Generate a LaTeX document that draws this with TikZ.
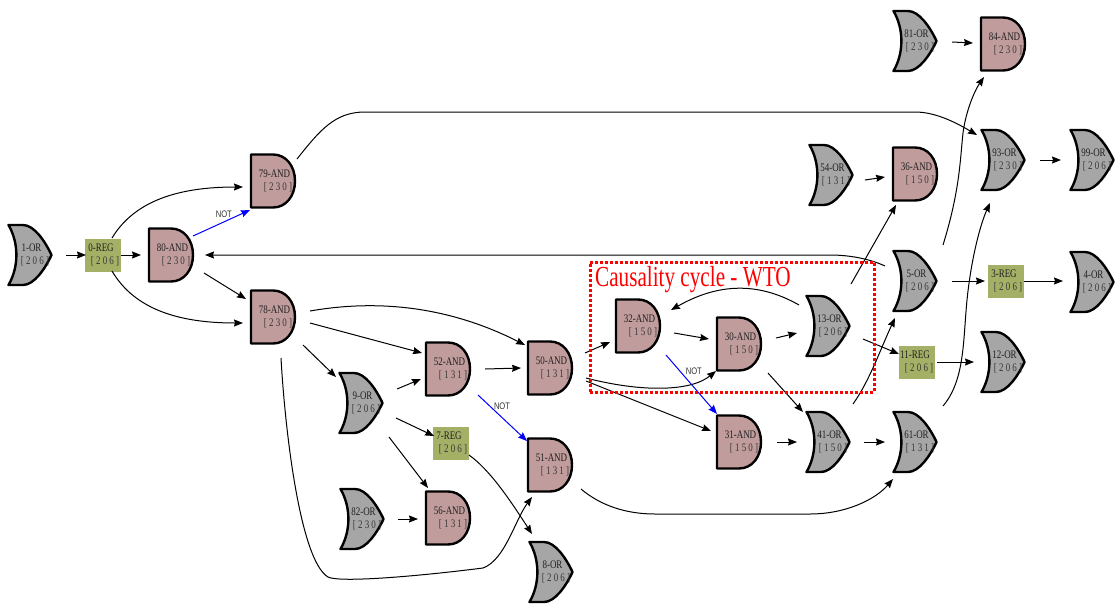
\documentclass[tikz,border=0pt]{standalone}
\usepackage{fontspec}
\usetikzlibrary{arrows.meta,calc}
\newfontfamily\gatefont[FakeStretch=0.78]{Liberation Serif}
\newfontfamily\cyclefont[FakeStretch=0.73]{Liberation Serif}
\newfontfamily\notfont[FakeStretch=0.8]{Liberation Sans}
\definecolor{andfill}{HTML}{C19C9C}
\definecolor{orfill}{HTML}{A6A6A6}
\definecolor{regfill}{HTML}{A3B066}
\definecolor{gatetext}{HTML}{202020}
\definecolor{numtext}{HTML}{383838}
\newdimen\gatecx
\newdimen\gatecy
\newcommand\gatept[2]{\pgfqpoint{\dimexpr\gatecx+#1pt\relax}{\dimexpr\gatecy+#2pt\relax}}
\makeatletter
\newcommand\gatecentre{%
  \southwest \pgf@xa=\pgf@x \pgf@ya=\pgf@y
  \northeast \pgf@xb=\pgf@x \pgf@yb=\pgf@y
  \gatecx=\dimexpr(\pgf@xa+\pgf@xb)/2\relax
  \gatecy=\dimexpr(\pgf@ya+\pgf@yb)/2\relax}
\pgfdeclareshape{andgate}{
  \inheritsavedanchors[from=rectangle]
  \inheritanchorborder[from=rectangle]
  \inheritanchor[from=rectangle]{center}
  \inheritanchor[from=rectangle]{north}
  \inheritanchor[from=rectangle]{south}
  \inheritanchor[from=rectangle]{east}
  \inheritanchor[from=rectangle]{west}
  \backgroundpath{
    \gatecentre
    \pgfpathmoveto{\gatept{-22}{-26.5}}
    \pgfpathlineto{\gatept{-22}{26.5}}
    \pgfpathlineto{\gatept{0}{26.5}}
    \pgfpathcurveto{\gatept{13}{26.5}}{\gatept{22}{15}}{\gatept{22}{0}}
    \pgfpathcurveto{\gatept{22}{-15}}{\gatept{13}{-26.5}}{\gatept{0}{-26.5}}
    \pgfpathclose
  }
}
\pgfdeclareshape{orgate}{
  \inheritsavedanchors[from=rectangle]
  \inheritanchorborder[from=rectangle]
  \inheritanchor[from=rectangle]{center}
  \inheritanchor[from=rectangle]{north}
  \inheritanchor[from=rectangle]{south}
  \inheritanchor[from=rectangle]{east}
  \inheritanchor[from=rectangle]{west}
  \backgroundpath{
    \gatecentre
    \pgfpathmoveto{\gatept{-21.5}{-30}}
    \pgfpathcurveto{\gatept{-11}{-12}}{\gatept{-11}{12}}{\gatept{-21.5}{30}}
    \pgfpathlineto{\gatept{-7}{30}}
    \pgfpathcurveto{\gatept{4}{30}}{\gatept{15}{14}}{\gatept{21.5}{0}}
    \pgfpathcurveto{\gatept{15}{-14}}{\gatept{4}{-30}}{\gatept{-7}{-30}}
    \pgfpathclose
  }
}
\makeatother
\newcommand\andt[2]{\makebox[0pt][c]{\hspace{3pt}#1}\\\makebox[0pt][c]{\hspace{10pt}\color{numtext}#2}}
\newcommand\ort[2]{\makebox[0pt][c]{\hspace{3pt}#1}\\\makebox[0pt][c]{\hspace{10pt}\color{numtext}#2}}
\newcommand\regt[2]{\makebox[0pt][c]{\hspace{-4pt}#1}\\\makebox[0pt][c]{\hspace{4pt}\color{numtext}#2}}
\tikzset{
  gatebase/.style={inner sep=0pt,outer sep=0pt,align=center,text=gatetext,
    font=\gatefont\fontsize{11.5}{13}\selectfont},
  andg/.style={gatebase,shape=andgate,draw=black,fill=andfill,line width=2.4pt,line join=round,
    minimum width=45pt,minimum height=55pt},
  org/.style={gatebase,shape=orgate,draw=black,fill=orfill,line width=2.4pt,line join=round,
    minimum width=44pt,minimum height=62pt},
  regg/.style={gatebase,shape=rectangle,fill=regfill,minimum width=36pt,minimum height=33pt},
  conn/.style={draw=black,line width=1pt,-{Stealth[length=9pt,width=7pt,inset=1pt]}},
  notconn/.style={conn,draw=blue,-{Stealth[length=9pt,width=7pt,inset=1pt,fill=blue]}},
  notlabel/.style={inner sep=0pt,text=black!80,font=\notfont\fontsize{9.5}{10}\selectfont},
  cyclebox/.style={draw=red,line width=3pt,dash pattern=on 3pt off 2pt,inner sep=0pt,
    minimum width=284pt,minimum height=130pt},
  cyclelabel/.style={inner sep=0pt,text=red,anchor=west,font=\cyclefont\fontsize{29}{30}\selectfont}
}
\begin{document}
\begin{tikzpicture}[x=1pt,y=-1pt]
\useasboundingbox (0,0) rectangle (1115,603);
% REG
\node[regg] (n0) at (103,255) {\regt{0-REG}{[ 2 0 6 ]}};
\node[regg] (n7) at (451,443) {\regt{7-REG}{[ 2 0 6 ]}};
\node[regg] (n3) at (1006,281) {\regt{3-REG}{[ 2 0 6 ]}};
\node[regg] (n11) at (917,362) {\regt{11-REG}{[ 2 0 6 ]}};
% AND
\node[andg] (n79) at (273,181) {\andt{79-AND}{[ 2 3 0 ]}};
\node[andg] (n80) at (171,255) {\andt{80-AND}{[ 2 3 0 ]}};
\node[andg] (n78) at (273,317) {\andt{78-AND}{[ 2 3 0 ]}};
\node[andg] (n52) at (448,369) {\andt{52-AND}{[ 1 3 1 ]}};
\node[andg] (n50) at (550,368) {\andt{50-AND}{[ 1 3 1 ]}};
\node[andg] (n51) at (550,465) {\andt{51-AND}{[ 1 3 1 ]}};
\node[andg] (n56) at (448,518) {\andt{56-AND}{[ 1 3 1 ]}};
\node[andg] (n32) at (638,326) {\andt{32-AND}{[ 1 5 0 ]}};
\node[andg] (n30) at (739,344) {\andt{30-AND}{[ 1 5 0 ]}};
\node[andg] (n31) at (739,442) {\andt{31-AND}{[ 1 5 0 ]}};
\node[andg] (n36) at (915,174) {\andt{36-AND}{[ 1 5 0 ]}};
\node[andg] (n84) at (1003,44) {\andt{84-AND}{[ 2 3 0 ]}};
% OR
\node[org] (n1) at (30,255) {\ort{1-OR}{[ 2 0 6 ]}};
\node[org] (n9) at (361,403) {\ort{9-OR}{[ 2 0 6 ]}};
\node[org] (n82) at (362,519) {\ort{82-OR}{[ 2 3 0 ]}};
\node[org] (n8) at (551,572) {\ort{8-OR}{[ 2 0 6 ]}};
\node[org] (n13) at (828,326) {\ort{13-OR}{[ 2 0 6 ]}};
\node[org] (n41) at (828,442) {\ort{41-OR}{[ 1 5 0 ]}};
\node[org] (n61) at (915,442) {\ort{61-OR}{[ 1 3 1 ]}};
\node[org] (n5) at (915,281) {\ort{5-OR}{[ 2 0 6 ]}};
\node[org] (n12) at (1003,362) {\ort{12-OR}{[ 2 0 6 ]}};
\node[org] (n54) at (831,175) {\ort{54-OR}{[ 1 3 1 ]}};
\node[org] (n81) at (915,41) {\ort{81-OR}{[ 2 3 0 ]}};
\node[org] (n93) at (1003,160) {\ort{93-OR}{[ 2 3 0 ]}};
\node[org] (n99) at (1092,160) {\ort{99-OR}{[ 2 0 6 ]}};
\node[org] (n4) at (1092,282) {\ort{4-OR}{[ 2 0 6 ]}};
% connectors
\draw[conn] ($(n1)+(36,0)$) -- ($(n0)+(-17,0)$);
\draw[conn] ($(n0)+(18,0)$) -- ($(n80)+(-30,0)$);
\draw[conn] ($(n0)+(9,-17)$) .. controls (135,200) and (180,187) .. ($(n79)+(-30,6)$);
\draw[conn] ($(n0)+(9,16)$) .. controls (135,310) and (180,323) .. ($(n78)+(-30,6)$);
\draw[notconn] ($(n80)+(22,-19)$) -- node[notlabel,pos=0.55,above left,xshift=8pt,yshift=4pt] (not1) {NOT} ($(n79)+(-23,29)$);
\draw[conn] ($(n80)+(33,18)$) -- ($(n78)+(-27,-18)$);
\draw[conn] ($(n79)+(24,-22)$) .. controls (320,130) and (335,112) .. (365,112) -- (915,112) .. controls (935,112) and (955,122) .. ($(n93)+(-26,-25)$);
\draw[conn] ($(n78)+(37,-6)$) .. controls (390,297) and (460,312) .. ($(n50)+(-25,-23)$);
\draw[conn] ($(n78)+(37,6)$) -- ($(n52)+(-26,-16)$);
\draw[conn] ($(n78)+(30,28)$) -- ($(n9)+(-25,-26)$);
\draw[conn] ($(n78)+(8,41)$) .. controls (285,430) and (300,560) .. (328,577) .. controls (340,583) and (420,576) .. (483,568) .. controls (505,560) and (515,520) .. ($(n51)+(-18,32)$);
\draw[conn] ($(n9)+(36,-14)$) -- ($(n52)+(-27,10)$);
\draw[conn] ($(n9)+(35,15)$) -- ($(n7)+(-17,-7)$);
\draw[conn] ($(n9)+(28,34)$) -- ($(n56)+(-20,-30)$);
\draw[conn] ($(n82)+(36,0)$) -- ($(n56)+(-30,1)$);
\draw[conn] ($(n7)+(18,12)$) .. controls (490,470) and (510,500) .. ($(n8)+(-19,-38)$);
\draw[conn] ($(n52)+(37,0)$) -- ($(n50)+(-29,0)$);
\draw[notconn] ($(n52)+(30,26)$) -- node[notlabel,pos=0.5,above right,xshift=-9pt,yshift=8pt] (not2) {NOT} ($(n51)+(-23,-24)$);
\draw[conn] ($(n50)+(35,-15)$) -- ($(n32)+(-28,16)$);
\draw[conn] ($(n50)+(36,10)$) .. controls (640,392) and (690,392) .. ($(n30)+(-23,27)$);
\draw[conn] ($(n50)+(36,13)$) -- ($(n31)+(-28,-11)$);
\draw[conn] ($(n32)+(36,7)$) -- ($(n30)+(-30,-5)$);
\draw[notconn] ($(n32)+(28,29)$) -- node[notlabel,pos=0.3,above right,xshift=4pt,yshift=-2pt] (not3) {NOT} ($(n31)+(-22,-28)$);
\draw[conn] ($(n30)+(37,-6)$) -- ($(n13)+(-31,7)$);
\draw[conn] ($(n30)+(29,29)$) -- ($(n41)+(-25,-30)$);
\draw[conn] ($(n13)+(-29,-21)$) .. controls (755,280) and (715,285) .. ($(n32)+(33,-16)$);
\draw[conn] ($(n13)+(23,-42)$) -- ($(n36)+(-19,31)$);
\draw[conn] ($(n13)+(35,13)$) -- ($(n11)+(-18,-8)$);
\draw[conn] ($(n41)+(36,0)$) -- ($(n61)+(-30,0)$);
\draw[conn] ($(n31)+(38,0)$) -- ($(n41)+(-31,0)$);
\draw[conn] ($(n41)+(25,-38)$) .. controls (870,380) and (880,350) .. ($(n5)+(-20,37)$);
\draw[conn] ($(n5)+(-30,-15)$) .. controls (870,259) and (850,255) .. (830,255) -- ($(n80)+(34,0)$);
\draw[conn] ($(n5)+(28,-36)$) .. controls (960,190) and (960,160) .. (963,133) .. controls (966,110) and (975,90) .. ($(n84)+(-19,33)$);
\draw[conn] ($(n5)+(37,0)$) -- ($(n3)+(-21,0)$);
\draw[conn] ($(n3)+(18,0)$) -- ($(n4)+(-29,-1)$);
\draw[conn] ($(n11)+(20,0)$) -- ($(n12)+(-29,0)$);
\draw[conn] ($(n61)+(28,-36)$) .. controls (965,380) and (963,340) .. (967,300) .. controls (971,260) and (980,225) .. ($(n93)+(-13,43)$);
\draw[conn] ($(n51)+(31,24)$) .. controls (600,505) and (625,514) .. (655,514) -- (810,514) .. controls (845,514) and (875,500) .. ($(n61)+(-22,37)$);
\draw[conn] ($(n54)+(34,5)$) -- ($(n36)+(-30,3)$);
\draw[conn] ($(n81)+(37,1)$) -- ($(n84)+(-30,-1)$);
\draw[conn] ($(n93)+(37,0)$) -- ($(n99)+(-31,0)$);
% causality box
\node[cyclebox] (cycle) at (732,327) {};
\node[cyclelabel] (cycletext) at (595,280) {Causality cycle - WTO};
\end{tikzpicture}
\end{document}
